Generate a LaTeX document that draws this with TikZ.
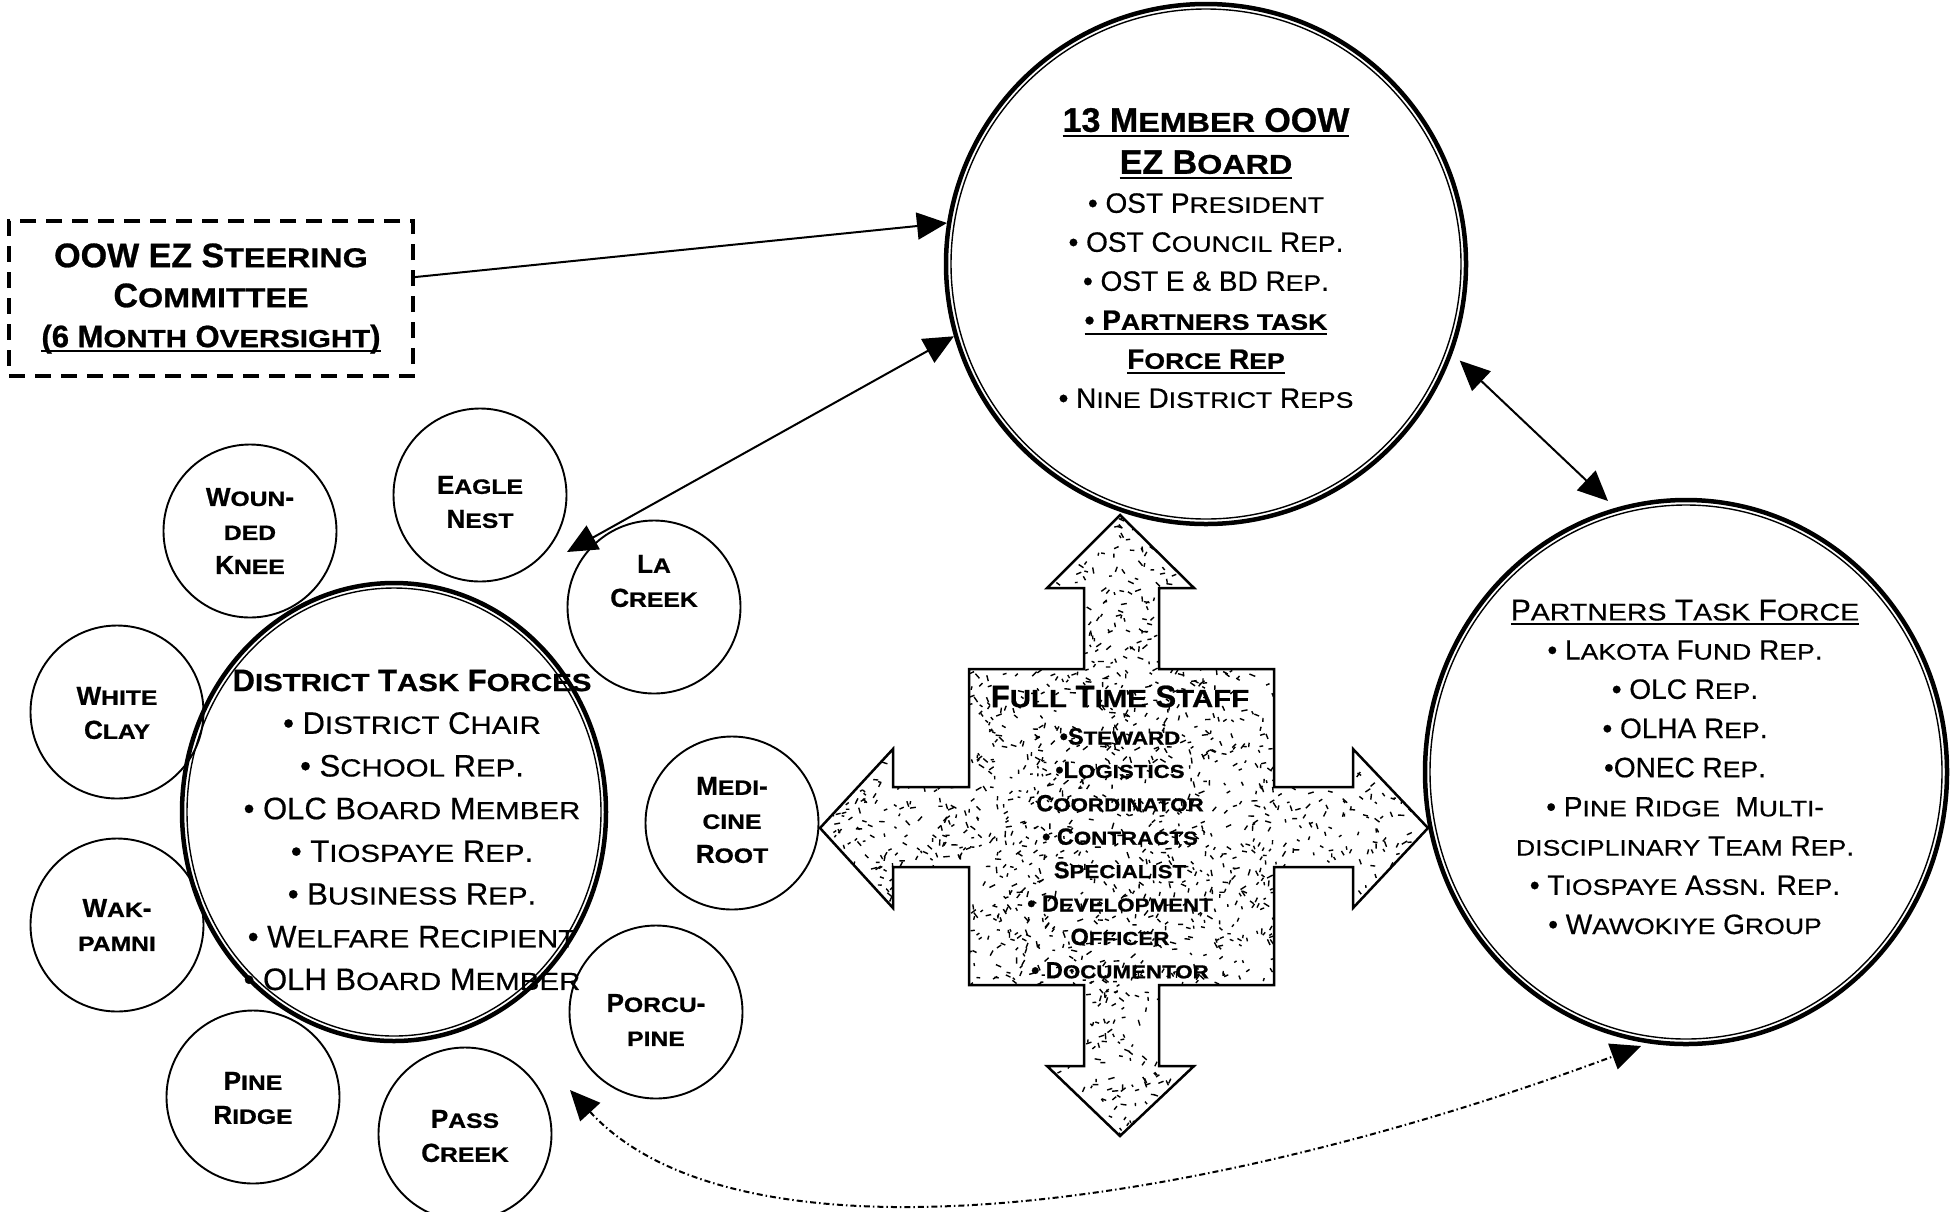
\documentclass[tikz,border=0pt]{standalone}
\usepackage{fontspec}
\setmainfont{Liberation Sans}[UprightFeatures={FakeBold=0.5},BoldFeatures={FakeBold=0.8}]
\usepackage{graphicx}
\usetikzlibrary{arrows.meta,shapes.geometric}
\newcommand\sm[1]{\scalebox{0.95}[0.8]{#1}}
\newsavebox\ulbox
\newcommand\ul[1]{\sbox\ulbox{#1}\rlap{\rule[-5pt]{\wd\ulbox}{2.2pt}}\usebox\ulbox}
\tikzset{
  ring/.style={draw, line width=4.5pt, inner sep=0pt},
  innerring/.style={line width=1.4pt},
  smallc/.style={circle, draw, line width=1.9pt, minimum size=173pt, inner sep=0pt},
  smallt/.style={align=center, inner sep=0pt, font=\fontsize{26}{34}\selectfont\bfseries},
  conn/.style={line width=2pt},
  tipboth/.style={arrows={Triangle[length=30pt,width=27pt]-Triangle[length=30pt,width=27pt]}},
  tipend/.style={arrows={-Triangle[length=30pt,width=27pt]}},
  speck/.style={line width=1.4pt},
  crossline/.style={line width=2.5pt, line join=miter},
  txt/.style={align=center, inner sep=0pt}
}
\begin{document}
\begin{tikzpicture}[x=1pt,y=-1pt]
\fill[white] (0,0) rectangle (1953,1211);
\useasboundingbox (0,0) rectangle (1953,1211);

% steering committee
\node[draw, line width=3.5pt, dash pattern=on 16pt off 10pt, minimum width=404pt,
  minimum height=155pt, inner sep=0pt, align=center,
  font=\fontsize{34}{40}\selectfont\bfseries] (steer) at (211,298.5)
  {OOW EZ S\sm{TEERING}\\C\sm{OMMITTEE}\\{\fontsize{31}{40}\selectfont\ul{(6 M\sm{ONTH} O\sm{VERSIGHT})}}};

% big rings
\node[ring, circle, minimum size=520pt] (board) at (1206,264) {};
\draw[innerring] (board.center) circle[radius=255pt];
\node[ring, ellipse, minimum width=522pt, minimum height=544pt] (ptf) at (1686,772) {};
\draw[innerring] (ptf.center) ellipse[x radius=256pt, y radius=267pt];
\node[ring, ellipse, minimum width=424pt, minimum height=458pt] (dtf) at (394,812) {};
\draw[innerring] (dtf.center) ellipse[x radius=207pt, y radius=224pt];

% small district circles
\node[smallc] (wk) at (250,531) {};
\node[smallc] (en) at (480,495) {};
\node[smallc] (lc) at (654,607) {};
\node[smallc] (wc) at (117,712) {};
\node[smallc] (mr) at (732,823) {};
\node[smallc] (wp) at (117,925) {};
\node[smallc] (pc) at (656,1012) {};
\node[smallc] (pr) at (253,1097) {};
\node[smallc] (pk) at (465,1134) {};
\node[smallt] (wkt) at (250,531) {W\sm{OUN}-\\\sm{DED}\\K\sm{NEE}};
\node[smallt] (ent) at (480,502) {E\sm{AGLE}\\N\sm{EST}};
\node[smallt] (lct) at (654,581) {L\sm{A}\\C\sm{REEK}};
\node[smallt] (wct) at (117,713) {W\sm{HITE}\\C\sm{LAY}};
\node[smallt] (mrt) at (732,820) {M\sm{EDI}-\\\sm{CINE}\\R\sm{OOT}};
\node[smallt] (wpt) at (117,925) {W\sm{AK}-\\\sm{PAMNI}};
\node[smallt] (pct) at (656,1020) {P\sm{ORCU}-\\\sm{PINE}};
\node[smallt] (prt) at (253,1098) {P\sm{INE}\\R\sm{IDGE}};
\node[smallt] (pkt) at (465,1136) {P\sm{ASS}\\C\sm{REEK}};

% cross arrow with speckle
\begin{scope}
\clip (1120,515) -- (1194,588) -- (1159,588) -- (1159,669) -- (1274,669) -- (1274,787)
 -- (1353,787) -- (1353,749) -- (1428,828) -- (1353,908) -- (1353,867) -- (1274,867)
 -- (1274,985) -- (1159,985) -- (1159,1066) -- (1194,1066) -- (1120,1136) -- (1047,1066)
 -- (1084,1066) -- (1084,985) -- (969,985) -- (969,867) -- (893,867) -- (893,908)
 -- (820,828) -- (893,749) -- (893,787) -- (969,787) -- (969,669) -- (1084,669)
 -- (1084,588) -- (1047,588) -- cycle;
\pgfmathsetseed{11}
\foreach \i in {1,...,3400}{
  \pgfmathsetmacro\px{820+608*rnd}
  \pgfmathsetmacro\py{515+621*rnd}
  \pgfmathsetmacro\pa{360*rnd}
  \pgfmathsetmacro\pl{2.5+4*rnd}
  \draw[speck] (\px,\py) -- ++(\pa:\pl);
}
\end{scope}
\draw[crossline] (1120,515) -- (1194,588) -- (1159,588) -- (1159,669) -- (1274,669) -- (1274,787)
 -- (1353,787) -- (1353,749) -- (1428,828) -- (1353,908) -- (1353,867) -- (1274,867)
 -- (1274,985) -- (1159,985) -- (1159,1066) -- (1194,1066) -- (1120,1136) -- (1047,1066)
 -- (1084,1066) -- (1084,985) -- (969,985) -- (969,867) -- (893,867) -- (893,908)
 -- (820,828) -- (893,749) -- (893,787) -- (969,787) -- (969,669) -- (1084,669)
 -- (1084,588) -- (1047,588) -- cycle;

% texts
\node[txt, font=\fontsize{28}{39}\selectfont] (boardtxt) at (1206,258) {%
{\fontsize{34}{39}\selectfont\bfseries\ul{13 M\sm{EMBER} OOW}}\\[3pt]
{\fontsize{34}{39}\selectfont\bfseries\ul{EZ B\sm{OARD}}}\\
• OST P\sm{RESIDENT}\\
• OST C\sm{OUNCIL} R\sm{EP}.\\
• OST E \& BD R\sm{EP}.\\
{\bfseries\ul{• P\sm{ARTNERS TASK}}}\\
{\bfseries\ul{F\sm{ORCE} R\sm{EP}}}\\
• N\sm{INE} D\sm{ISTRICT} R\sm{EPS}};

\node[txt, font=\fontsize{28}{39.2}\selectfont] (ptftxt) at (1685,767) {%
{\fontsize{30}{39}\selectfont\ul{P\sm{ARTNERS} T\sm{ASK} F\sm{ORCE}}}\\
• L\sm{AKOTA} F\sm{UND} R\sm{EP}.\\
• OLC R\sm{EP}.\\
• OLHA R\sm{EP}.\\
•ONEC R\sm{EP}.\\
• P\sm{INE} R\sm{IDGE}\ \ M\sm{ULTI}-\\
\sm{DISCIPLINARY} T\sm{EAM} R\sm{EP}.\\
• T\sm{IOSPAYE} A\sm{SSN}. R\sm{EP}.\\
• W\sm{AWOKIYE} G\sm{ROUP}};

\node[txt, font=\fontsize{31}{42.7}\selectfont] (dtftxt) at (412,830) {%
{\bfseries D\sm{ISTRICT} T\sm{ASK} F\sm{ORCES}}\\
• D\sm{ISTRICT} C\sm{HAIR}\\
• S\sm{CHOOL} R\sm{EP}.\\
• OLC B\sm{OARD} M\sm{EMBER}\\
• T\sm{IOSPAYE} R\sm{EP}.\\
• B\sm{USINESS} R\sm{EP}.\\
• W\sm{ELFARE} R\sm{ECIPIENT}\\
• OLH B\sm{OARD} M\sm{EMBER}};

\node[txt, font=\fontsize{23.5}{33.4}\selectfont\bfseries] (stafftxt) at (1120,832) {%
{\fontsize{31}{34}\selectfont F\sm{ULL} T\sm{IME} S\sm{TAFF}}\\[4pt]
•S\sm{TEWARD}\\
•L\sm{OGISTICS}\\
C\sm{OORDINATOR}\\
• C\sm{ONTRACTS}\\
S\sm{PECIALIST}\\
• D\sm{EVELOPMENT}\\
O\sm{FFICER}\\
• D\sm{OCUMENTOR}};

% connectors
\coordinate (dtip) at (567,552);
\coordinate (dcA) at (570,1090);
\coordinate (dcB) at (1641,1046);
\draw[conn, tipend] (steer.6) -- (board.171);
\draw[conn, tipboth] (board.196) -- (dtip);
\draw[conn, tipboth, shorten <=10pt, shorten >=10pt] (board.340) -- (ptf.105);
\draw[conn, tipboth, dash pattern=on 6pt off 3pt on 1.5pt off 3pt]
  (dcA) .. controls (740,1275) and (1200,1210) .. (dcB);
\end{tikzpicture}
\end{document}
